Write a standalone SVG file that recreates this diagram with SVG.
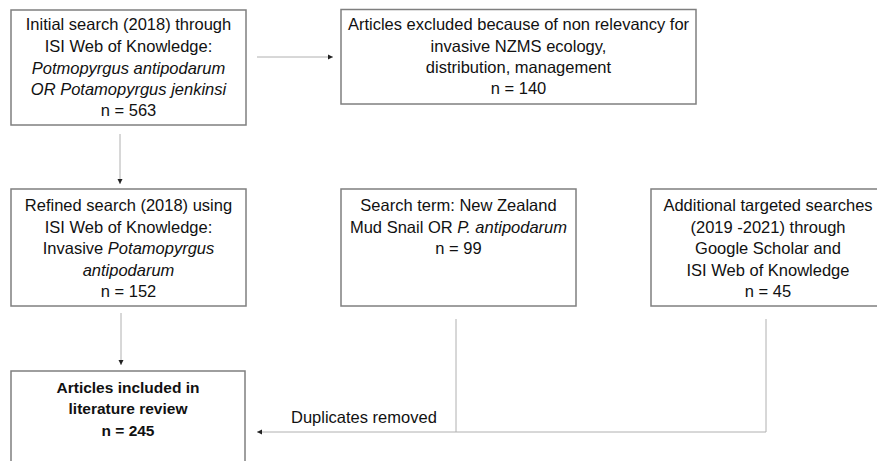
<svg xmlns="http://www.w3.org/2000/svg" width="877" height="461" viewBox="0 0 877 461">
<style>
.box{fill:#fff;stroke:#7f7f7f;stroke-width:1.5}
.t{font-family:"Liberation Sans",Arial,sans-serif;font-size:16.5px;fill:#111;text-anchor:middle}
.b{font-weight:bold;font-size:15.5px}
.i{font-style:italic}
.c{fill:none;stroke:#b0b0b0;stroke-width:1}
</style>
<defs>
<marker id="ah" markerWidth="6" markerHeight="6" refX="5" refY="3" orient="auto" markerUnits="userSpaceOnUse">
<path d="M0,0.5 L5,3 L0,5.5 Z" fill="#222"/>
</marker>
</defs>
<rect width="877" height="461" fill="#fff"/>
<g id="connectors">
<line class="c" x1="257" y1="57" x2="333" y2="57" marker-end="url(#ah)"/>
<line class="c" x1="120" y1="134" x2="120" y2="184" marker-end="url(#ah)"/>
<line class="c" x1="121" y1="313" x2="121" y2="365" marker-end="url(#ah)"/>
<polyline class="c" points="456,319 456,432"/>
<polyline class="c" points="766,319 766,432 257,432" marker-end="url(#ah)"/>
<text class="t" x="291" y="423" style="text-anchor:start">Duplicates removed</text>
</g>
<g id="initial">
<rect class="box" x="11" y="10" width="235" height="115"/>
<text class="t" x="128.5" y="30">Initial search (2018) through</text>
<text class="t" x="128.5" y="52">ISI Web of Knowledge:</text>
<text class="t i" x="128.5" y="74">Potmopyrgus antipodarum</text>
<text class="t i" x="128.5" y="95">OR Potamopyrgus jenkinsi</text>
<text class="t" x="128.5" y="116">n = 563</text>
</g>
<g id="excluded">
<rect class="box" x="341" y="9.5" width="355" height="94.5"/>
<text class="t" x="518.5" y="30">Articles excluded because of non relevancy for</text>
<text class="t" x="518.5" y="52">invasive NZMS ecology,</text>
<text class="t" x="518.5" y="73">distribution, management</text>
<text class="t" x="518.5" y="94">n = 140</text>
</g>
<g id="refined">
<rect class="box" x="11" y="189" width="235" height="117"/>
<text class="t" x="128.5" y="211">Refined search (2018) using</text>
<text class="t" x="128.5" y="233">ISI Web of Knowledge:</text>
<text class="t" x="128.5" y="254">Invasive <tspan class="i">Potamopyrgus</tspan></text>
<text class="t i" x="128.5" y="276">antipodarum</text>
<text class="t" x="128.5" y="297">n = 152</text>
</g>
<g id="searchterm">
<rect class="box" x="341" y="189" width="235" height="117"/>
<text class="t" x="458.5" y="211">Search term: New Zealand</text>
<text class="t" x="458.5" y="233">Mud Snail OR <tspan class="i">P. antipodarum</tspan></text>
<text class="t" x="458.5" y="254">n = 99</text>
</g>
<g id="additional">
<rect class="box" x="651" y="189" width="234" height="117"/>
<text class="t" x="768" y="211">Additional targeted searches</text>
<text class="t" x="768" y="233">(2019 -2021) through</text>
<text class="t" x="768" y="254">Google Scholar and</text>
<text class="t" x="768" y="276">ISI Web of Knowledge</text>
<text class="t" x="768" y="297">n = 45</text>
</g>
<g id="included">
<rect class="box" x="11" y="371" width="234" height="110"/>
<text class="t b" x="128" y="393">Articles included in</text>
<text class="t b" x="128" y="414">literature review</text>
<text class="t b" x="128" y="436">n = 245</text>
</g>
</svg>
